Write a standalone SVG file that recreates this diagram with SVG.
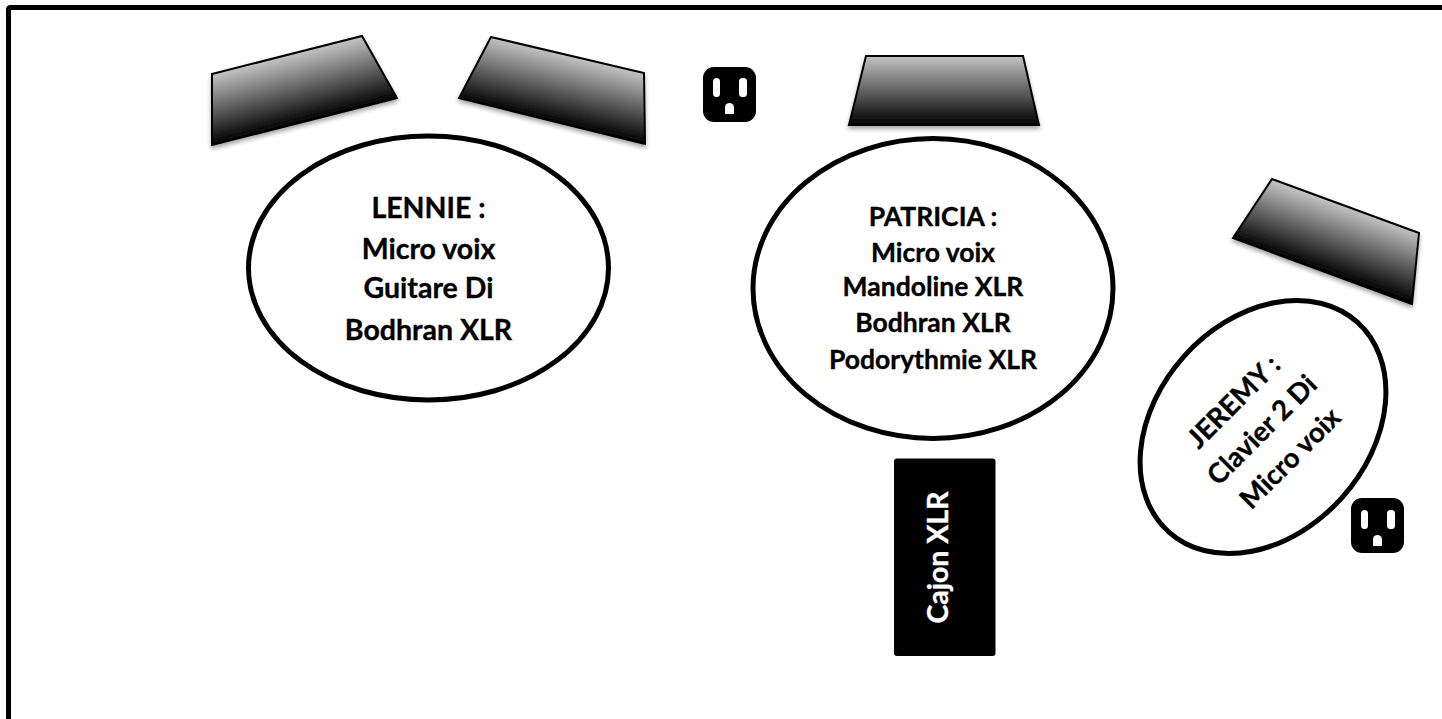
<svg xmlns="http://www.w3.org/2000/svg" width="1442" height="719" viewBox="0 0 1442 719">
<style>
.t{font-family:"Lato","Open Sans","Liberation Sans",sans-serif;font-weight:700;fill:#000;stroke:#000;stroke-width:.35px;text-anchor:middle}
.l{font-size:28.500px}.p{font-size:26.500px}.j{font-size:27.500px}
.e{fill:#fff;stroke:#000;stroke-width:5}
.m{stroke:#000;stroke-width:2;stroke-linejoin:miter;filter:url(#sh)}
.h{fill:#fff}
</style>
<defs>
<filter id="sh" x="-10%" y="-10%" width="120%" height="130%"><feDropShadow dx="0" dy="3" stdDeviation="2" flood-color="#000" flood-opacity="0.35"/></filter>
<linearGradient id="g1" gradientUnits="userSpaceOnUse" x1="288" y1="55" x2="305" y2="122"><stop offset="0" stop-color="#c4c4c4"/><stop offset="1" stop-color="#000"/></linearGradient>
<linearGradient id="g2" gradientUnits="userSpaceOnUse" x1="568" y1="55" x2="552" y2="122"><stop offset="0" stop-color="#c4c4c4"/><stop offset="1" stop-color="#000"/></linearGradient>
<linearGradient id="g3" gradientUnits="userSpaceOnUse" x1="944" y1="56" x2="944" y2="125"><stop offset="0" stop-color="#c4c4c4"/><stop offset="1" stop-color="#000"/></linearGradient>
<linearGradient id="g4" gradientUnits="userSpaceOnUse" x1="1345" y1="206" x2="1322" y2="271"><stop offset="0" stop-color="#c4c4c4"/><stop offset="1" stop-color="#000"/></linearGradient>
</defs>
<rect width="1442" height="719" fill="#fff"/>
<path d="M8.500 722V9.500Q8.500 7.500 10.500 7.500H1445" fill="none" stroke="#000" stroke-width="5"/>
<g id="mic-1"><polygon class="m" fill="url(#g1)" points="212,74 362,36 397,98 212,145"/></g>
<g id="mic-2"><polygon class="m" fill="url(#g2)" points="491,37 644,73 645,144 459,98"/></g>
<g id="mic-3"><polygon class="m" fill="url(#g3)" points="866,56 1023,56 1039,125 849,125"/></g>
<g id="mic-4"><polygon class="m" fill="url(#g4)" points="1272,179 1419,233 1412,304 1233,238"/></g>
<g id="outlet-1"><rect x="703" y="67" width="53" height="55" rx="11"/>
<rect class="h" x="713" y="78" width="7" height="19" rx="3.500"/><rect class="h" x="739" y="78" width="8" height="19" rx="3.500"/><path class="h" d="M725 114V107.500a4.500 4.500 0 0 1 9 0V114Z"/></g>
<g id="outlet-2"><rect x="1351" y="498" width="53" height="55" rx="11"/>
<rect class="h" x="1361" y="510" width="7" height="19" rx="3.500"/><rect class="h" x="1387" y="510" width="8" height="19" rx="3.500"/><path class="h" d="M1373 546V539.500a4.500 4.500 0 0 1 9 0V546Z"/></g>
<g id="lennie"><ellipse class="e" cx="428.500" cy="268" rx="180" ry="132"/>
<text class="t l" x="428.500" y="218">LENNIE :</text><text class="t l" x="428.500" y="259">Micro voix</text><text class="t l" x="428.500" y="298">Guitare Di</text><text class="t l" x="428.500" y="340">Bodhran XLR</text></g>
<g id="patricia"><ellipse class="e" cx="933" cy="288.500" rx="180" ry="150"/>
<text class="t p" x="933" y="226">PATRICIA :</text><text class="t p" x="933" y="262">Micro voix</text><text class="t p" x="933" y="296">Mandoline XLR</text><text class="t p" x="933" y="332">Bodhran XLR</text><text class="t p" x="933" y="369">Podorythmie XLR</text></g>
<g id="jeremy"><ellipse class="e" cx="1263" cy="427" rx="106" ry="141" transform="rotate(42 1263 427)"/>
<g transform="rotate(-45 1263 431)"><text class="t j" x="1263" y="399">JEREMY :</text><text class="t j" x="1263" y="439">Clavier 2 Di</text><text class="t j" x="1263" y="479">Micro voix</text></g></g>
<g id="cajon"><rect x="894" y="458.500" width="101.500" height="197.500" rx="3"/>
<text transform="translate(948 557.500) rotate(-90)" text-anchor="middle" style="font-family:Lato,'Open Sans',sans-serif;font-weight:700;font-size:28.500px;fill:#fff;stroke:#fff;stroke-width:.35px">Cajon XLR</text></g>
<g id="connectors"/>
</svg>
